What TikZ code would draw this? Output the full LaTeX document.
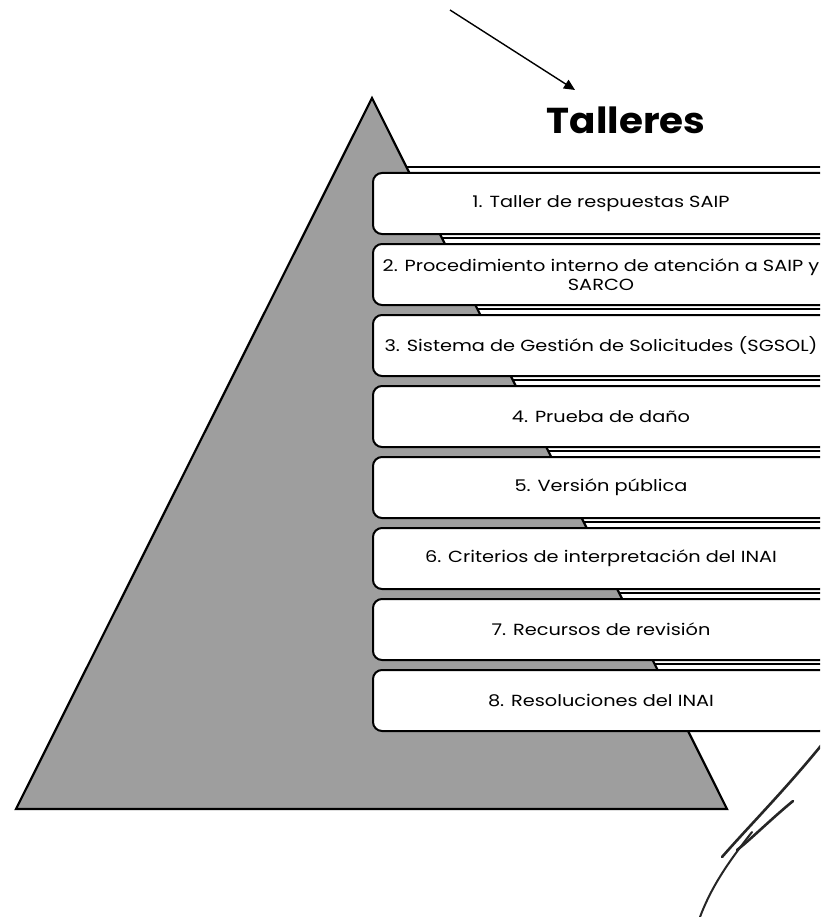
\documentclass[tikz,border=0pt]{standalone}
\usepackage{fontspec}
\setmainfont{Poppins}
\newfontfamily\boxfont[FakeStretch=1.2]{Poppins}
\newfontfamily\titlefont[FakeStretch=1.08]{Poppins}
\usetikzlibrary{arrows.meta}
\tikzset{
  listbox/.style={draw=black, line width=2pt, fill=white, rounded corners=9pt,
    minimum width=456pt, minimum height=61pt, anchor=north west, inner sep=0pt,
    align=center, font=\boxfont\fontsize{16.1}{19}\selectfont},
  sepline/.style={line width=2pt, black},
  pyramid/.style={draw=black, line width=2.2pt, fill=black!38},
  pointer/.style={line width=1.4pt, -{Triangle[length=11pt,width=10pt]}},
  sig/.style={line width=2.6pt, black!85, line cap=round}
}
\begin{document}
\begin{tikzpicture}[x=1pt,y=-1pt]
\useasboundingbox (0,0) rectangle (820,917);
\fill[white] (0,0) rectangle (820,917);
\clip (0,0) rectangle (820,917);
% separator lines behind pyramid
\foreach \t in {172,243,314,385,456,527,598,669} {
  \draw[sepline] (372,\t-5) -- (830,\t-5);
}
% pyramid
\draw[pyramid] (16,809) -- (372,98) -- (727,809) -- cycle;
% boxes
\node[listbox] (b1) at (372,172) {1. Taller de respuestas SAIP};
\node[listbox] (b2) at (372,243) {2. Procedimiento interno de atención a SAIP y\\SARCO};
\node[listbox] (b3) at (372,314) {3. Sistema de Gestión de Solicitudes (SGSOL)};
\node[listbox] (b4) at (372,385) {4. Prueba de daño};
\node[listbox] (b5) at (372,456) {5. Versión pública};
\node[listbox] (b6) at (372,527) {6. Criterios de interpretación del INAI};
\node[listbox] (b7) at (372,598) {7. Recursos de revisión};
\node[listbox] (b8) at (372,669) {8. Resoluciones del INAI};
% title and arrow
\node[font=\titlefont\fontsize{36}{40}\bfseries\selectfont, inner sep=0pt] (title) at (626,120) {Talleres};
\coordinate (arrowstart) at (450,10);
\coordinate (arrowtip) at (575,90);
\draw[pointer] (arrowstart) -- (arrowtip);
% signature strokes
\coordinate (s1) at (824,742);
\coordinate (s2) at (722,857);
\coordinate (s3) at (793,801);
\coordinate (s4) at (737,850);
\coordinate (s5) at (752,832);
\coordinate (s6) at (700,917);
\draw[sig] (s1) .. controls (785,790) and (750,825) .. (s2);
\draw[sig] (s3) .. controls (770,820) and (750,840) .. (s4);
\draw[sig, line width=2pt] (s5) .. controls (730,860) and (712,885) .. (s6);
\end{tikzpicture}
\end{document}
